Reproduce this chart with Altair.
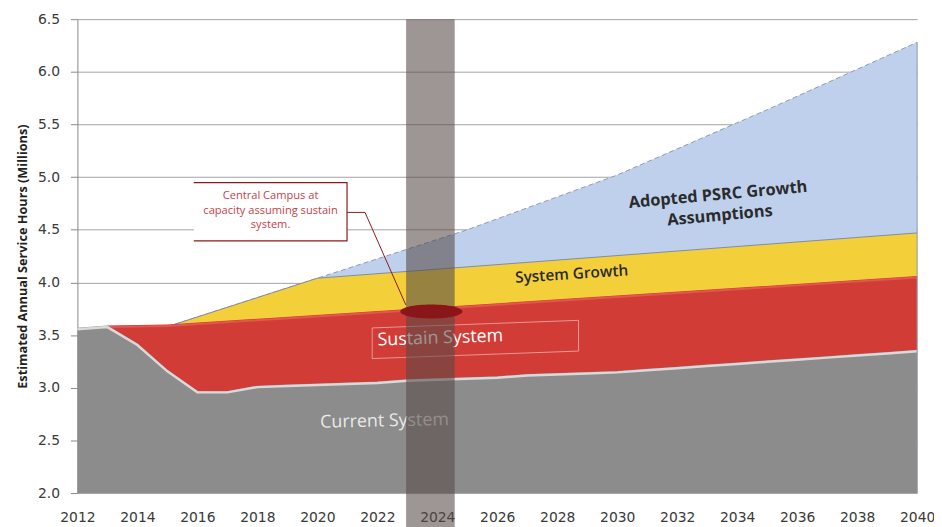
import altair as alt
import pandas as pd

# ---------------- data ----------------
current_years = list(range(2012, 2041))
current_vals = [3.57, 3.59, 3.42, 3.17, 2.97, 2.97, 3.02, 3.03, 3.04, 3.05,
                3.06, 3.08, 3.09, 3.10, 3.11, 3.13, 3.14, 3.15, 3.16, 3.18,
                3.20, 3.22, 3.24, 3.26, 3.28, 3.30, 3.32, 3.34, 3.36]

sustain_years = [2013, 2015, 2040]
sustain_vals = [3.59, 3.60, 4.06]

growth_years = [2015, 2020, 2040]
growth_vals = [3.58, 4.04, 4.47]

psrc_years = [2015, 2020, 2025, 2030, 2035, 2040]
psrc_vals = [3.58, 4.04, 4.50, 5.02, 5.64, 6.28]

x_ticks = list(range(2012, 2041, 2))
y_ticks = [2.0, 2.5, 3.0, 3.5, 4.0, 4.5, 5.0, 5.5, 6.0, 6.5]

# annotation anchors (data coordinates)
band_years = [2022.96, 2024.58]
band_vals = [6.5, 1.62]
ellipse_year, ellipse_val = 2023.8, 3.724
note_lines = "Central Campus at\ncapacity assuming sustain\nsystem."
note_box_years = [2015.88, 2020.99]
note_box_vals = [4.947, 4.394]
note_first_line = (2018.44, 4.822)
leader_years = [2020.99, 2021.59, 2022.95]
leader_vals = [4.665, 4.665, 3.787]
sustain_box_years = [2021.83, 2028.71, 2028.71, 2021.83, 2021.83]
sustain_box_vals = [3.568, 3.640, 3.348, 3.277, 3.568]

labels = {
    "sustain": ("Sustain System", 2024.10, 3.468),
    "current": ("Current System", 2022.24, 2.68),
    "growth": ("System Growth", 2028.48, 4.079),
    "psrc": ("Adopted PSRC Growth\nAssumptions", 2033.36, 4.83),
}

# ---------------- scales / axes ----------------
xs = alt.Scale(domain=[2012, 2040], nice=False, zero=False)
ys = alt.Scale(domain=[2.0, 6.5], nice=False, zero=False)

x_axis = alt.Axis(values=x_ticks, format="d", labelFont="DejaVu Sans", labelFontSize=14,
                  labelColor="#3b3b3b", ticks=False, domain=False, grid=False,
                  labelPadding=18, title=None, labelFlush=False, labelOverlap=False)
y_axis = alt.Axis(values=y_ticks, format=".1f", labelFont="DejaVu Sans", labelFontSize=14,
                  labelColor="#3b3b3b", tickSize=7, tickColor="#8a8a8a",
                  domainColor="#8a8a8a", gridColor="#a3a3a3", gridWidth=1,
                  labelPadding=11, labelOverlap=False,
                  title="Estimated Annual Service Hours (Millions)",
                  titleFont="Open Sans", titleFontSize=12.8, titleFontWeight="bold",
                  titleColor="#222222", titleAngle=270, titleX=-55, titleY=239,
                  titleAlign="center", titleBaseline="middle")


def X():
    return alt.X("year:Q", scale=xs, axis=x_axis)


def Y():
    return alt.Y("v:Q", scale=ys, axis=y_axis)


def df(years, vals, **extra):
    d = pd.DataFrame({"year": years, "v": vals})
    for k, val in extra.items():
        d[k] = val
    return d


df_cur = df(current_years, current_vals)
df_sus = df(sustain_years, sustain_vals)
df_gro = df(growth_years, growth_vals)
df_psrc = df(psrc_years, psrc_vals)

base2 = alt.datum(2.0)

psrc_area = alt.Chart(df_psrc).mark_area(color="#bfd0ed", opacity=1).encode(x=X(), y=Y(), y2=base2)
psrc_edge = alt.Chart(df_psrc).mark_line(color="#8f9aaa", strokeWidth=1, strokeDash=[5, 3]).encode(x=X(), y=Y())
gro_area = alt.Chart(df_gro).mark_area(color="#f3cf3a", opacity=1).encode(x=X(), y=Y(), y2=base2)
gro_edge = alt.Chart(df_gro).mark_line(color="#7d8ca6", strokeWidth=1).encode(x=X(), y=Y())
sus_area = alt.Chart(df_sus).mark_area(color="#d13c37", opacity=1).encode(x=X(), y=Y(), y2=base2)
sus_edge = alt.Chart(df_sus).mark_line(color="#e2574f", strokeWidth=2, yOffset=1.5).encode(x=X(), y=Y())
cur_area = alt.Chart(df_cur).mark_area(color="#8c8c8c", opacity=1).encode(x=X(), y=Y(), y2=base2)
cur_edge = alt.Chart(df_cur).mark_line(color="#d9d9d9", strokeWidth=2.5, yOffset=1.5).encode(x=X(), y=Y())
right_edge = alt.Chart(df([2040, 2040], [2.0, psrc_vals[-1]])).mark_line(
    color="#8f9aaa", strokeWidth=1).encode(x=X(), y=Y())

# Sustain System faint frame
sus_box = alt.Chart(df(sustain_box_years, sustain_box_vals, o=list(range(5)))).mark_line(
    color="#f3c2c0", strokeWidth=0.8, opacity=0.85).encode(x=X(), y=Y(), order="o:Q")


def label(key, **kw):
    txt, yr, val = labels[key]
    return alt.Chart(df([yr], [val], t=[txt])).mark_text(
        font="Open Sans", align="center", baseline="middle", lineBreak="\n", **kw
    ).encode(x=X(), y=Y(), text="t:N")


t_sus = label("sustain", fontSize=18, color="#ffffff", angle=358)
t_cur = label("current", fontSize=18, color="#e9e9e9", angle=358.8)
t_gro = label("growth", fontSize=15.5, fontWeight=600, color="#2b2b2b", angle=356.3)
t_psrc = label("psrc", fontSize=16.5, fontWeight="bold", color="#2b2b2b", angle=354.8, lineHeight=21)

# grey vertical band
band = alt.Chart(pd.DataFrame({"year": [band_years[0]], "year2": [band_years[1]],
                               "v": [band_vals[0]], "v2": [band_vals[1]]})).mark_rect(
    color="#564a47", opacity=0.58, clip=False).encode(
    x=X(), x2="year2:Q", y=Y(), y2="v2:Q")

# callout
note_bg = alt.Chart(pd.DataFrame({"year": [note_box_years[0]], "year2": [note_box_years[1]],
                                  "v": [note_box_vals[0]], "v2": [note_box_vals[1]]})).mark_rect(
    color="#ffffff").encode(x=X(), x2="year2:Q", y=Y(), y2="v2:Q")
note_border = alt.Chart(df([note_box_years[0], note_box_years[1], note_box_years[1], note_box_years[0]],
                           [note_box_vals[0], note_box_vals[0], note_box_vals[1], note_box_vals[1]],
                           o=[0, 1, 2, 3])).mark_line(color="#8b1a1c", strokeWidth=1.2).encode(
    x=X(), y=Y(), order="o:Q")
note_text = alt.Chart(df([note_first_line[0]], [note_first_line[1]], t=[note_lines])).mark_text(
    font="Open Sans", fontSize=11.2, color="#c8414a", align="center", baseline="middle",
    lineBreak="\n", lineHeight=14.8).encode(x=X(), y=Y(), text="t:N")
leader = alt.Chart(df(leader_years, leader_vals, o=[0, 1, 2])).mark_line(
    color="#8b1a1c", strokeWidth=1).encode(x=X(), y=Y(), order="o:Q")

ellipse = alt.Chart(df([ellipse_year], [ellipse_val])).mark_point(
    shape="M -1 0 A 1 0.225 0 1 1 1 0 A 1 0.225 0 1 1 -1 0 Z",
    size=62.7 ** 2, filled=True, color="#8a161a", opacity=1, strokeWidth=0).encode(x=X(), y=Y())

chart = alt.layer(
    psrc_area, psrc_edge, gro_area, gro_edge, sus_area, sus_edge, cur_area, cur_edge, right_edge,
    sus_box, t_sus, t_cur, t_gro, t_psrc,
    band, note_bg, note_border, note_text, leader, ellipse
).properties(
    width=847, height=478,
    padding={"left": 70, "top": 9, "right": 17, "bottom": 32},
    autosize=alt.AutoSizeParams(type="none"),
    background="#ffffff",
).configure_view(stroke=None)

chart.save("out.html", embed_options={"renderer": "svg", "actions": False})
